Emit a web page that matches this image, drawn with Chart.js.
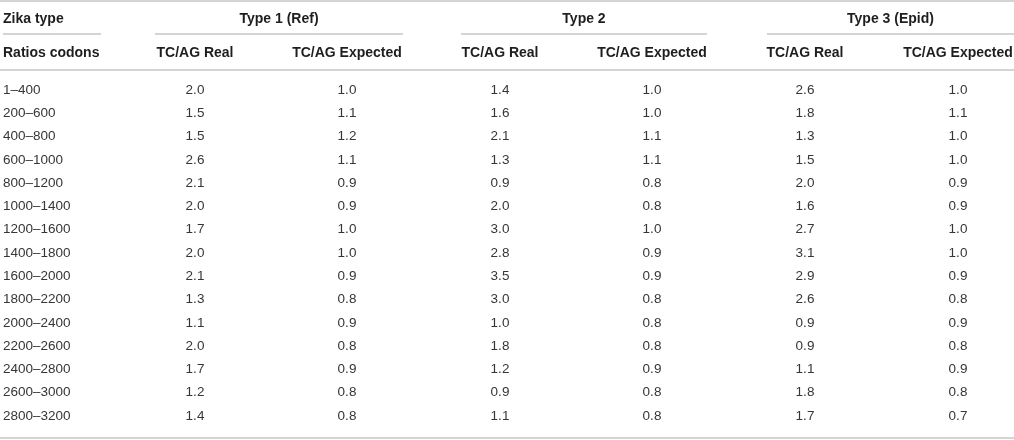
<!DOCTYPE html>
<html>
<head>
<meta charset="utf-8">
<script src="https://cdn.jsdelivr.net/npm/chart.js@4.4.1/dist/chart.umd.min.js"></script>
<style>
  html, body { margin: 0; padding: 0; background: #fff; }
  #wrap { width: 1014px; height: 440px; position: relative; }
</style>
</head>
<body>
<div id="wrap"><canvas id="c"></canvas></div>
<script>
// ---- data ----
const rowLabels = ['1–400','200–600','400–800','600–1000','800–1200','1000–1400','1200–1600','1400–1800','1600–2000','1800–2200','2000–2400','2200–2600','2400–2800','2600–3000','2800–3200'];
const groupLabels = ['Type 1 (Ref)', 'Type 2', 'Type 3 (Epid)'];
const columnLabels = ['TC/AG Real', 'TC/AG Expected'];
const cornerTop = 'Zika type';
const cornerBottom = 'Ratios codons';
const type1Real = [2.0,1.5,1.5,2.6,2.1,2.0,1.7,2.0,2.1,1.3,1.1,2.0,1.7,1.2,1.4];
const type1Exp  = [1.0,1.1,1.2,1.1,0.9,0.9,1.0,1.0,0.9,0.8,0.9,0.8,0.9,0.8,0.8];
const type2Real = [1.4,1.6,2.1,1.3,0.9,2.0,3.0,2.8,3.5,3.0,1.0,1.8,1.2,0.9,1.1];
const type2Exp  = [1.0,1.0,1.1,1.1,0.8,0.8,1.0,0.9,0.9,0.8,0.8,0.8,0.9,0.8,0.8];
const type3Real = [2.6,1.8,1.3,1.5,2.0,1.6,2.7,3.1,2.9,2.6,0.9,0.9,1.1,1.8,1.7];
const type3Exp  = [1.0,1.1,1.0,1.0,0.9,0.9,1.0,1.0,0.9,0.8,0.9,0.8,0.9,0.8,0.7];

// ---- layout (not data) ----
const colCenters = [195, 347, 500, 652, 805, 958];
const groupSpans = [[155, 403], [461, 707], [767, 1014]];
const cornerSpan = [3, 101];
const labelX = 3;
const headerY1 = 19, groupLineY = 34, headerY2 = 53, headerLineY = 70, topLineY = 1, bottomLineY = 438;
const FONT = "'Liberation Sans', Arial, Helvetica, sans-serif";
const lineColor = '#c6c6c6';

const series = [type1Real, type1Exp, type2Real, type2Exp, type3Real, type3Exp];
const datasets = series.map((vals, ci) => ({
  label: groupLabels[Math.floor(ci / 2)] + ' ' + columnLabels[ci % 2],
  data: vals.map((v, ri) => ({ x: colCenters[ci], y: rowLabels[ri], v: v })),
  pointRadius: 0,
  pointHoverRadius: 0,
  showLine: false
}));

const tablePlugin = {
  id: 'tablePlugin',
  afterDatasetsDraw(chart) {
    const ctx = chart.ctx;
    const xs = chart.scales.x, ys = chart.scales.y;
    ctx.save();
    // lines
    ctx.strokeStyle = lineColor;
    ctx.lineWidth = 1.5;
    const hline = (x0, x1, y) => {
      ctx.beginPath();
      ctx.moveTo(xs.getPixelForValue(x0), y);
      ctx.lineTo(xs.getPixelForValue(x1), y);
      ctx.stroke();
    };
    hline(0, 1014, topLineY);
    hline(cornerSpan[0], cornerSpan[1], groupLineY);
    groupSpans.forEach(s => hline(s[0], s[1], groupLineY));
    hline(0, 1014, headerLineY);
    hline(0, 1014, bottomLineY);

    // headers
    ctx.textBaseline = 'middle';
    ctx.fillStyle = '#1e1e1e';
    ctx.font = 'bold 14px ' + FONT;
    ctx.textAlign = 'left';
    ctx.fillText(cornerTop, xs.getPixelForValue(labelX), headerY1);
    ctx.fillText(cornerBottom, xs.getPixelForValue(labelX), headerY2);
    ctx.textAlign = 'center';
    groupSpans.forEach((s, gi) => {
      ctx.fillText(groupLabels[gi], xs.getPixelForValue((s[0] + s[1]) / 2), headerY1);
    });
    colCenters.forEach((cx, ci) => {
      ctx.fillText(columnLabels[ci % 2], xs.getPixelForValue(cx), headerY2);
    });

    // row labels
    ctx.font = '13.5px ' + FONT;
    ctx.fillStyle = '#363636';
    ctx.textAlign = 'left';
    rowLabels.forEach((lab, ri) => {
      ctx.fillText(lab, xs.getPixelForValue(labelX), ys.getPixelForValue(ri));
    });

    // cells
    ctx.textAlign = 'center';
    chart.data.datasets.forEach((ds, di) => {
      const meta = chart.getDatasetMeta(di);
      meta.data.forEach((pt, i) => {
        ctx.fillText(ds.data[i].v.toFixed(1), pt.x, pt.y);
      });
    });
    ctx.restore();
  }
};

new Chart(document.getElementById('c'), {
  type: 'scatter',
  data: { labels: rowLabels, datasets: datasets },
  options: {
    responsive: true,
    maintainAspectRatio: false,
    animation: false,
    events: [],
    layout: { padding: { left: 0, right: 0, top: 78.5, bottom: 12.5 } },
    plugins: { legend: { display: false }, tooltip: { enabled: false } },
    scales: {
      x: { type: 'linear', min: 0, max: 1014, display: false },
      y: { type: 'category', labels: rowLabels, offset: true, display: false }
    }
  },
  plugins: [tablePlugin]
});
</script>
</body>
</html>
